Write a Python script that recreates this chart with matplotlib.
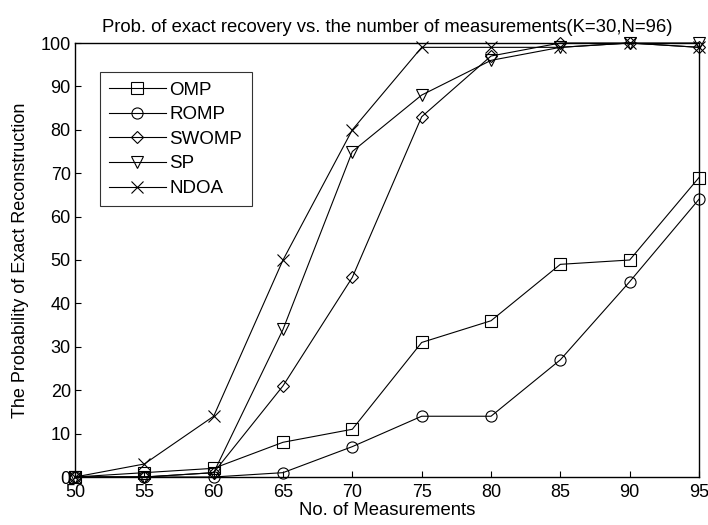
import matplotlib
matplotlib.use("Agg")
import matplotlib.pyplot as plt

plt.rcParams["font.family"] = ["Liberation Sans", "DejaVu Sans"]

medidas = [50, 55, 60, 65, 70, 75, 80, 85, 90, 95]
omp   = [0, 1, 2, 8, 11, 31, 36, 49, 50, 69]
romp  = [0, 0, 0, 1, 7, 14, 14, 27, 45, 64]
swomp = [0, 0, 1, 21, 46, 83, 97, 100, 100, 99]
sp    = [0, 0, 1, 34, 75, 88, 96, 99, 100, 100]
ndoa  = [0, 3, 14, 50, 80, 99, 99, 99, 100, 99]

SERIES = [("OMP", omp, "s"), ("ROMP", romp, "o"), ("SWOMP", swomp, "D"),
          ("SP", sp, "v"), ("NDOA", ndoa, "x")]

fig = plt.figure(figsize=(7.08, 5.25), dpi=100)
# caixa dos eixos medida no original (px)
ax = fig.add_axes([75/708, 1 - 477/525, (699-75)/708, (477-43)/525])

for nome, vals, mk in SERIES:
    ms = 6 if mk == "D" else 8
    ax.plot(medidas, vals, color="black", lw=0.8, marker=mk,
            markersize=ms, markerfacecolor="none", markeredgewidth=0.8,
            label=nome, clip_on=False)

ax.set_xlim(50, 95)
ax.set_ylim(0, 100)
ax.set_xticks(medidas)
ax.set_yticks(range(0, 101, 10))
ax.tick_params(direction="in", labelsize=13, length=4)
ax.tick_params(axis="x", pad=5)
ax.tick_params(axis="y", pad=3)
for s in ax.spines.values():
    s.set_linewidth(1.0)

ax.set_title("Prob. of exact recovery vs. the number of measurements(K=30,N=96)",
             fontsize=13.3, pad=8)
ax.set_xlabel("No. of Measurements", fontsize=13.3, labelpad=1)
ax.set_ylabel("The Probability of Exact Reconstruction", fontsize=13, labelpad=8)

leg = ax.legend(loc="upper left", bbox_to_anchor=(0.040, 0.933), fontsize=13.5,
                frameon=True, fancybox=False, edgecolor="black",
                handlelength=3.0, borderpad=0.5, labelspacing=0.4,
                handletextpad=0.2, borderaxespad=0)
leg.get_frame().set_linewidth(0.8)

fig.savefig("out.png", dpi=100)
